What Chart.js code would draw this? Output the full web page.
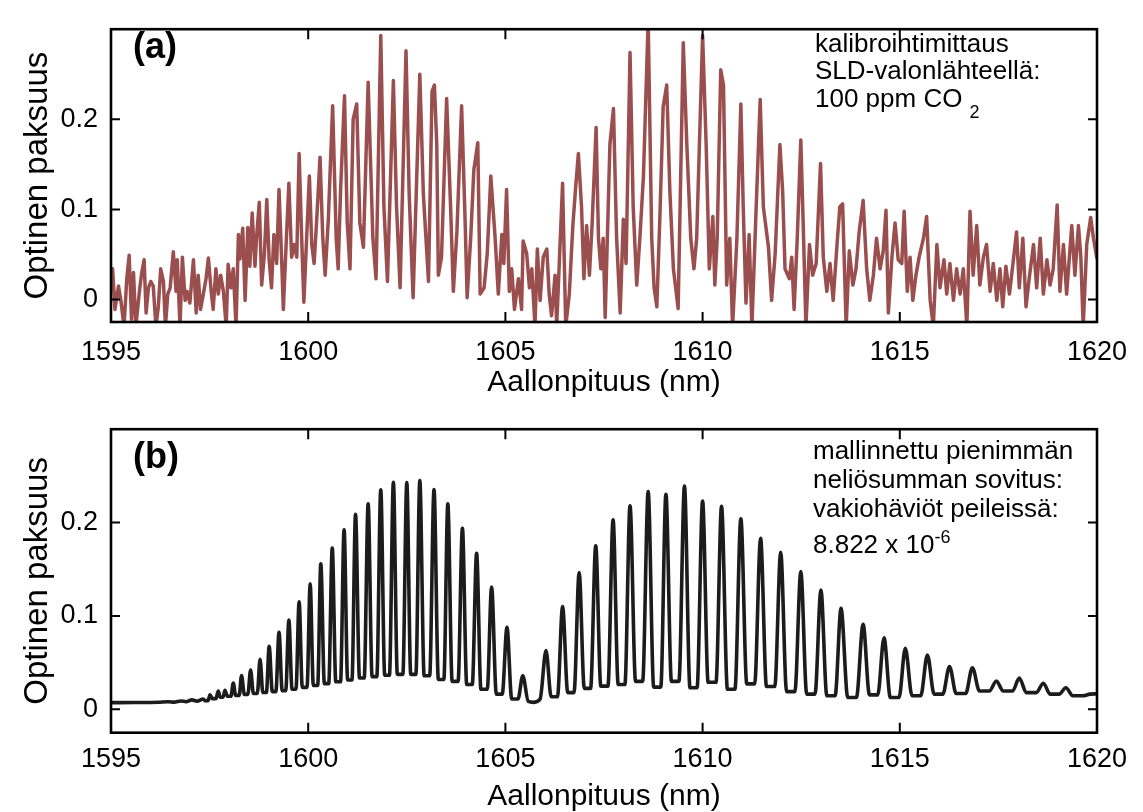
<!DOCTYPE html>
<html lang="fi">
<head>
<meta charset="UTF-8">
<title>CO2-kalibrointi</title>
<script src="https://cdn.jsdelivr.net/npm/chart.js"></script>
<style>
  body { margin: 0; background: #fff; }
  #stage {
    position: absolute; left: 0; top: 0; width: 1143px; height: 812px;
    font-family: "Liberation Sans", Arial, sans-serif; color: #000;
  }
  .panel { position: absolute; left: 0; width: 1143px; }
  #pa { top: 0; height: 400px; }
  #pb { top: 400px; height: 412px; }
  .tag { position: absolute; font-weight: bold; font-size: 36px; line-height: 36px; }
  .note { position: absolute; font-size: 26px; line-height: 27.5px; white-space: nowrap; }
  .note sub { font-size: 18px; vertical-align: -11px; margin-left: 7px; }
  .note sup { font-size: 18px; vertical-align: 10px; }
</style>
</head>
<body>
<div id="stage">
  <div class="panel" id="pa"><canvas id="chartA"></canvas></div>
  <div class="panel" id="pb"><canvas id="chartB"></canvas></div>
  <div class="tag" style="left:133px; top:27.5px;">(a)</div>
  <div class="tag" style="left:133px; top:437.5px;">(b)</div>
  <div class="note" style="left:815px; top:29.5px;">
    kalibrointimittaus<br>SLD-valonlähteellä:<br>100 ppm CO<sub>2</sub>
  </div>
  <div class="note" style="left:813px; top:435.5px; line-height:29px;">
    mallinnettu pienimmän<br>neliösumman sovitus:<br>vakiohäviöt peileissä:<br>8.822 x 10<sup>-6</sup>
  </div>
</div>

<script>
// axes
const xTicks = [1595, 1600, 1605, 1610, 1615, 1620];
const yTicks = [0, 0.1, 0.2];

const measNm = [
  1595.00, 1595.04, 1595.10, 1595.19, 1595.25, 1595.33, 1595.40, 1595.46, 1595.52, 1595.57,
  1595.63, 1595.72, 1595.78, 1595.84, 1595.89, 1595.95, 1596.01, 1596.07, 1596.14, 1596.20,
  1596.26, 1596.33, 1596.38, 1596.44, 1596.50, 1596.58, 1596.65, 1596.68, 1596.75, 1596.81,
  1596.88, 1596.93, 1597.00, 1597.09, 1597.16, 1597.21, 1597.27, 1597.34, 1597.41, 1597.47,
  1597.54, 1597.59, 1597.66, 1597.72, 1597.78, 1597.85, 1597.92, 1597.97, 1598.04, 1598.10,
  1598.17, 1598.23, 1598.27, 1598.34, 1598.40, 1598.47, 1598.52, 1598.58, 1598.65, 1598.69,
  1598.76, 1598.82, 1598.89, 1598.95, 1599.01, 1599.07, 1599.13, 1599.20, 1599.26, 1599.33,
  1599.37, 1599.44, 1599.51, 1599.58, 1599.65, 1599.71, 1599.77, 1599.84, 1599.89, 1599.96,
  1600.03, 1600.09, 1600.15, 1600.22, 1600.30, 1600.37, 1600.43, 1600.51, 1600.62, 1600.71,
  1600.76, 1600.82, 1600.92, 1600.99, 1601.06, 1601.14, 1601.23, 1601.31, 1601.40, 1601.52,
  1601.64, 1601.72, 1601.84, 1601.92, 1602.01, 1602.16, 1602.24, 1602.33, 1602.48, 1602.56,
  1602.66, 1602.83, 1602.92, 1603.05, 1603.14, 1603.20, 1603.26, 1603.30, 1603.38, 1603.51,
  1603.61, 1603.68, 1603.77, 1603.89, 1603.98, 1604.03, 1604.12, 1604.20, 1604.30, 1604.36,
  1604.46, 1604.54, 1604.63, 1604.74, 1604.82, 1604.91, 1604.96, 1605.03, 1605.10, 1605.16,
  1605.23, 1605.33, 1605.41, 1605.45, 1605.54, 1605.61, 1605.67, 1605.75, 1605.81, 1605.88,
  1605.96, 1606.05, 1606.11, 1606.17, 1606.26, 1606.30, 1606.45, 1606.53, 1606.62, 1606.71,
  1606.78, 1606.85, 1606.93, 1606.99, 1607.06, 1607.13, 1607.20, 1607.30, 1607.36, 1607.42,
  1607.48, 1607.53, 1607.65, 1607.74, 1607.82, 1607.91, 1607.99, 1608.06, 1608.16, 1608.24,
  1608.33, 1608.41, 1608.50, 1608.62, 1608.71, 1608.77, 1608.84, 1608.92, 1609.00, 1609.09,
  1609.17, 1609.26, 1609.38, 1609.51, 1609.60, 1609.70, 1609.78, 1609.85, 1610.00, 1610.09,
  1610.17, 1610.26, 1610.31, 1610.37, 1610.46, 1610.53, 1610.61, 1610.69, 1610.76, 1610.87,
  1610.97, 1611.03, 1611.10, 1611.18, 1611.25, 1611.35, 1611.46, 1611.54, 1611.67, 1611.75,
  1611.84, 1611.96, 1612.03, 1612.09, 1612.20, 1612.26, 1612.32, 1612.40, 1612.49, 1612.55,
  1612.62, 1612.71, 1612.79, 1612.88, 1612.99, 1613.06, 1613.15, 1613.23, 1613.31, 1613.42,
  1613.48, 1613.55, 1613.64, 1613.72, 1613.81, 1613.89, 1613.97, 1614.07, 1614.16, 1614.24,
  1614.33, 1614.41, 1614.50, 1614.58, 1614.65, 1614.71, 1614.80, 1614.88, 1614.96, 1615.05,
  1615.11, 1615.19, 1615.26, 1615.33, 1615.41, 1615.49, 1615.60, 1615.68, 1615.77, 1615.85,
  1615.94, 1616.02, 1616.12, 1616.19, 1616.27, 1616.36, 1616.44, 1616.53, 1616.61, 1616.70,
  1616.78, 1616.86, 1616.95, 1617.03, 1617.12, 1617.20, 1617.29, 1617.37, 1617.46, 1617.54,
  1617.61, 1617.69, 1617.78, 1617.88, 1617.96, 1618.03, 1618.12, 1618.20, 1618.28, 1618.39,
  1618.47, 1618.56, 1618.64, 1618.73, 1618.81, 1618.89, 1618.99, 1619.06, 1619.15, 1619.23,
  1619.36, 1619.44, 1619.53, 1619.59, 1619.65, 1619.74, 1619.84, 1619.91, 1620.00
];
const measVal = [
  0.020, 0.034, -0.011, 0.015, -0.001, -0.030, 0.023, 0.049, -0.022, 0.030,
  -0.030, 0.009, 0.030, 0.044, -0.015, 0.013, 0.020, 0.015, -0.030, -0.008,
  0.034, 0.020, -0.030, 0.006, 0.013, 0.053, 0.009, 0.044, -0.030, 0.047,
  -0.001, 0.009, -0.004, 0.044, -0.015, 0.027, -0.011, 0.006, 0.023, 0.046,
  0.009, -0.011, 0.034, 0.006, 0.027, 0.009, -0.030, 0.039, 0.013, 0.034,
  -0.030, 0.072, 0.045, 0.079, -0.001, 0.080, 0.037, 0.096, 0.037, 0.068,
  0.108, 0.016, 0.051, 0.111, 0.044, 0.013, 0.072, 0.040, 0.122, 0.040,
  -0.011, 0.061, 0.129, 0.047, 0.061, 0.047, 0.162, 0.061, -0.003, 0.068,
  0.137, 0.061, 0.040, 0.092, 0.158, 0.068, 0.027, 0.089, 0.215, 0.068,
  0.034, 0.120, 0.226, 0.085, 0.034, 0.200, 0.217, 0.085, 0.058, 0.241,
  0.068, 0.023, 0.293, 0.103, 0.020, 0.243, 0.103, 0.013, 0.276, 0.117,
  0.002, 0.250, 0.117, 0.020, 0.231, 0.238, 0.172, 0.027, 0.047, 0.223,
  0.103, 0.009, 0.075, 0.215, 0.085, 0.002, 0.068, 0.144, 0.174, 0.006,
  0.013, 0.051, 0.137, 0.068, 0.006, 0.072, 0.040, 0.122, 0.009, 0.034,
  -0.011, 0.023, -0.011, 0.065, 0.051, 0.013, 0.034, -0.030, 0.056, -0.001,
  0.047, 0.056, 0.006, -0.018, 0.027, -0.030, 0.129, -0.030, 0.006, 0.082,
  0.124, 0.162, 0.103, 0.023, 0.082, 0.027, 0.085, 0.191, 0.068, 0.034,
  0.068, -0.020, 0.172, 0.212, 0.068, -0.015, 0.089, 0.040, 0.274, 0.103,
  0.016, 0.068, 0.137, 0.310, 0.068, 0.013, -0.008, 0.096, 0.214, 0.238,
  0.120, 0.034, -0.010, 0.285, 0.172, 0.068, 0.034, 0.068, 0.293, 0.172,
  0.034, 0.092, 0.016, 0.068, 0.255, 0.238, 0.016, 0.068, -0.030, 0.068,
  0.217, 0.103, -0.004, 0.072, -0.030, 0.092, 0.222, 0.103, 0.058, -0.001,
  0.051, 0.172, 0.120, 0.034, 0.023, 0.047, -0.011, 0.068, 0.177, 0.085,
  -0.030, 0.061, 0.027, 0.040, 0.151, 0.047, 0.009, 0.040, -0.001, 0.068,
  0.103, 0.106, -0.030, 0.054, 0.016, 0.034, 0.075, 0.110, 0.034, -0.001,
  0.027, 0.068, 0.034, 0.054, 0.099, -0.015, 0.047, 0.085, 0.044, 0.040,
  0.098, 0.009, 0.047, -0.001, 0.027, 0.047, 0.068, 0.092, -0.001, -0.030,
  0.061, 0.013, 0.044, 0.006, 0.040, -0.001, 0.034, 0.006, 0.034, -0.030,
  0.098, 0.027, 0.082, 0.016, 0.047, 0.061, 0.009, 0.040, -0.001, 0.034,
  -0.008, 0.037, 0.006, 0.044, 0.075, 0.013, 0.068, -0.008, 0.023, 0.061,
  0.013, 0.068, 0.006, 0.044, 0.016, 0.034, 0.105, 0.009, 0.061, 0.006,
  0.082, 0.027, 0.082, 0.047, -0.030, 0.061, 0.091, 0.068, 0.045
];

// (b) least-squares model: baseline, then each line peak with the trough around it
const modelNm = [
  1595.00, 1595.60, 1596.20, 1596.45, 1596.60, 1596.78, 1596.90, 1597.05, 1597.18,
  1597.34, 1597.39, 1597.46, 1597.51, 1597.57, 1597.66, 1597.72, 1597.77, 1597.84,
  1597.89, 1597.95, 1598.04, 1598.10, 1598.16, 1598.25, 1598.31, 1598.38, 1598.47,
  1598.54, 1598.61, 1598.71, 1598.78, 1598.85, 1598.94, 1599.01, 1599.09, 1599.18,
  1599.26, 1599.34, 1599.43, 1599.51, 1599.59, 1599.69, 1599.77, 1599.85, 1599.97,
  1600.05, 1600.13, 1600.24, 1600.32, 1600.41, 1600.52, 1600.61, 1600.70, 1600.82,
  1600.91, 1601.00, 1601.11, 1601.20, 1601.30, 1601.42, 1601.52, 1601.62, 1601.74,
  1601.84, 1601.94, 1602.06, 1602.16, 1602.26, 1602.40, 1602.50, 1602.60, 1602.73,
  1602.83, 1602.94, 1603.08, 1603.19, 1603.30, 1603.44, 1603.54, 1603.65, 1603.80,
  1603.91, 1604.02, 1604.16, 1604.27, 1604.38, 1604.54, 1604.65, 1604.77, 1604.92,
  1605.04, 1605.16, 1605.32, 1605.44, 1605.58, 1605.72, 1605.88,
  1606.03, 1606.16, 1606.32, 1606.45, 1606.58, 1606.74, 1606.87, 1607.00, 1607.16,
  1607.29, 1607.42, 1607.60, 1607.73, 1607.86, 1608.03, 1608.16, 1608.30, 1608.48,
  1608.62, 1608.76, 1608.94, 1609.07, 1609.21, 1609.40, 1609.54, 1609.68, 1609.86,
  1610.00, 1610.14, 1610.34, 1610.48, 1610.63, 1610.82, 1610.97, 1611.12, 1611.32,
  1611.47, 1611.62, 1611.83, 1611.98, 1612.13, 1612.34, 1612.49, 1612.64, 1612.85,
  1613.00, 1613.15, 1613.36, 1613.51, 1613.68, 1613.90, 1614.07, 1614.23, 1614.44,
  1614.60, 1614.76, 1614.98, 1615.14, 1615.31, 1615.53, 1615.70, 1615.87, 1616.09,
  1616.26, 1616.43, 1616.67, 1616.84, 1617.02, 1617.27, 1617.45, 1617.62, 1617.86,
  1618.03, 1618.21, 1618.46, 1618.64, 1618.81, 1619.04, 1619.21, 1619.39, 1619.64,
  1619.82, 1620.00
];
const modelVal = [
  0.0072, 0.0073, 0.0076, 0.0081, 0.0077, 0.0090, 0.0082, 0.0102, 0.0088,
  0.0111, 0.0093, 0.0093, 0.0155, 0.0115, 0.0115, 0.0197, 0.0130, 0.0130,
  0.0204, 0.0140, 0.0140, 0.0283, 0.0150, 0.0150, 0.0363, 0.0160, 0.0160,
  0.0422, 0.0170, 0.0170, 0.0536, 0.0180, 0.0180, 0.0674, 0.0190, 0.0190,
  0.0826, 0.0200, 0.0200, 0.0956, 0.0215, 0.0215, 0.1153, 0.0235, 0.0235,
  0.1344, 0.0255, 0.0255, 0.1558, 0.0275, 0.0275, 0.1727, 0.0295, 0.0295,
  0.1924, 0.0315, 0.0315, 0.2090, 0.0335, 0.0335, 0.2200, 0.0350, 0.0350,
  0.2352, 0.0365, 0.0365, 0.2432, 0.0375, 0.0375, 0.2428, 0.0375, 0.0375,
  0.2449, 0.0360, 0.0360, 0.2355, 0.0320, 0.0320, 0.2200, 0.0300, 0.0300,
  0.1938, 0.0266, 0.0266, 0.1672, 0.0215, 0.0215, 0.1309, 0.0163, 0.0163,
  0.0878, 0.0111, 0.0111, 0.0360, 0.0085, 0.0075, 0.0110,
  0.0629, 0.0135, 0.0135, 0.1102, 0.0179, 0.0179, 0.1466, 0.0225, 0.0225,
  0.1751, 0.0249, 0.0249, 0.2031, 0.0266, 0.0266, 0.2181, 0.0300, 0.0300,
  0.2332, 0.0238, 0.0238, 0.2304, 0.0300, 0.0300, 0.2391, 0.0231, 0.0231,
  0.2231, 0.0290, 0.0290, 0.2174, 0.0215, 0.0215, 0.2041, 0.0273, 0.0273,
  0.1831, 0.0244, 0.0244, 0.1682, 0.0190, 0.0190, 0.1475, 0.0163, 0.0163,
  0.1278, 0.0145, 0.0145, 0.1081, 0.0127, 0.0127, 0.0912, 0.0155, 0.0155,
  0.0767, 0.0127, 0.0127, 0.0653, 0.0145, 0.0145, 0.0582, 0.0163, 0.0163,
  0.0459, 0.0169, 0.0169, 0.0446, 0.0197, 0.0197, 0.0304, 0.0197, 0.0197,
  0.0335, 0.0179, 0.0179, 0.0280, 0.0163, 0.0163, 0.0231, 0.0145, 0.0145,
  0.0163, 0.0166
];

Chart.defaults.font.family = '"Liberation Sans", Arial, sans-serif';
Chart.defaults.color = '#000';

// box round the plot with inward ticks on all four sides
const frameBox = {
  id: 'frameBox',
  afterDatasetsDraw(chart) {
    const { ctx, chartArea: a, scales: { x, y } } = chart;
    ctx.save();
    ctx.strokeStyle = '#000';
    ctx.lineWidth = 2;
    ctx.beginPath();
    xTicks.forEach(v => {
      const px = x.getPixelForValue(v);
      ctx.moveTo(px, a.bottom); ctx.lineTo(px, a.bottom - 10);
      ctx.moveTo(px, a.top); ctx.lineTo(px, a.top + 10);
    });
    yTicks.forEach(v => {
      const py = y.getPixelForValue(v);
      ctx.moveTo(a.left, py); ctx.lineTo(a.left + 9, py);
      ctx.moveTo(a.right, py); ctx.lineTo(a.right - 9, py);
    });
    ctx.stroke();
    ctx.lineWidth = 2.6;
    ctx.strokeRect(a.left, a.top, a.right - a.left, a.bottom - a.top);
    ctx.restore();
  }
};

function makeChart(id, nm, val, color, width, smooth, padTop, xAxisH, tickPad, titlePad) {
  return new Chart(document.getElementById(id), {
    type: 'line',
    data: {
      datasets: [{
        data: nm.map((x, i) => ({ x: x, y: val[i] })),
        borderColor: color,
        borderWidth: width,
        pointRadius: 0,
        tension: 0,
        cubicInterpolationMode: smooth ? 'monotone' : 'default',
        borderJoinStyle: 'round'
      }]
    },
    options: {
      responsive: true,
      maintainAspectRatio: false,
      animation: false,
      layout: { padding: { top: padTop, right: 46, left: 0, bottom: 0 } },
      plugins: { legend: { display: false }, tooltip: { enabled: false } },
      scales: {
        x: {
          type: 'linear', min: 1595, max: 1620,
          grid: { display: false, drawTicks: false },
          border: { display: false },
          afterBuildTicks: s => { s.ticks = xTicks.map(v => ({ value: v })); },
          afterFit: s => { s.height = xAxisH; },
          ticks: { autoSkip: false, maxRotation: 0, padding: tickPad, font: { size: 27 },
                   callback: v => String(v) },
          title: { display: true, text: 'Aallonpituus (nm)', font: { size: 30, lineHeight: 1 },
                   padding: { top: 0, bottom: titlePad } }
        },
        y: {
          min: -0.025, max: 0.3,
          grid: { display: false, drawTicks: false },
          border: { display: false },
          afterBuildTicks: s => { s.ticks = yTicks.map(v => ({ value: v })); },
          afterFit: s => { s.width = 111; },
          ticks: { padding: 13, font: { size: 27 }, callback: v => String(v) },
          title: { display: true, text: 'Optinen paksuus', font: { size: 33, lineHeight: 1 },
                   padding: { top: 21, bottom: 0 } }
        }
      }
    },
    plugins: [frameBox]
  });
}

makeChart('chartA', measNm, measVal, '#9b4e4e', 3.5, false, 10, 78, 14, 2);
makeChart('chartB', modelNm, modelVal, '#1c1c1c', 3.6, true, 20, 79.3, 11, 0);
</script>
</body>
</html>
